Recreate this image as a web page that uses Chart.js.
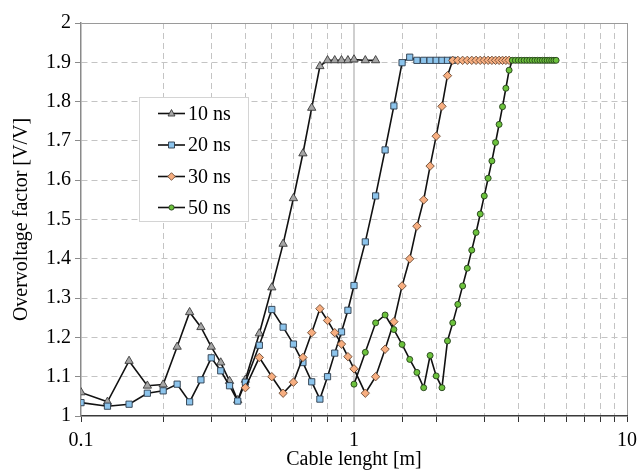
<!DOCTYPE html>
<html>
<head>
<meta charset="utf-8">
<script src="https://cdn.jsdelivr.net/npm/chart.js@4"></script>
<style>
  html, body { margin: 0; padding: 0; background: #fff; }
  #wrap { width: 638px; height: 470px; }
</style>
</head>
<body>
<div id="wrap"><canvas id="c" width="638" height="470"></canvas></div>
<script>
// ---- Data ----
const seriesNames = ['10 ns', '20 ns', '30 ns', '50 ns'];
const xTickLabels = ['0.1', '1', '10'];

const x10 = [0.1, 0.125, 0.15, 0.175, 0.2, 0.225, 0.25, 0.275, 0.3, 0.325, 0.35, 0.375, 0.4, 0.45, 0.5, 0.55, 0.6, 0.65, 0.7, 0.75, 0.8, 0.85, 0.9, 0.95, 1.0, 1.1, 1.2];
const y10 = [1.06, 1.036, 1.14, 1.077, 1.08, 1.176, 1.264, 1.226, 1.176, 1.136, 1.089, 1.04, 1.092, 1.21, 1.327, 1.438, 1.554, 1.668, 1.784, 1.89, 1.905, 1.905, 1.905, 1.905, 1.907, 1.905, 1.905];

const x20 = [0.1, 0.125, 0.15, 0.175, 0.2, 0.225, 0.25, 0.275, 0.3, 0.325, 0.35, 0.375, 0.4, 0.45, 0.5, 0.55, 0.6, 0.65, 0.7, 0.75, 0.8, 0.85, 0.9, 0.95, 1.0, 1.1, 1.2, 1.3, 1.4, 1.5, 1.6, 1.7, 1.8, 1.9, 2.0, 2.1, 2.2, 2.3];
const y20 = [1.034, 1.025, 1.03, 1.058, 1.064, 1.081, 1.036, 1.092, 1.148, 1.115, 1.077, 1.038, 1.086, 1.18, 1.271, 1.226, 1.183, 1.136, 1.087, 1.043, 1.10, 1.16, 1.214, 1.269, 1.332, 1.443, 1.56, 1.677, 1.789, 1.899, 1.913, 1.905, 1.905, 1.905, 1.905, 1.905, 1.905, 1.905];

const x30 = [0.4, 0.45, 0.5, 0.55, 0.6, 0.65, 0.7, 0.75, 0.8, 0.85, 0.9, 0.95, 1.0, 1.1, 1.2, 1.3, 1.4, 1.5, 1.6, 1.7, 1.8, 1.9, 2.0, 2.1, 2.2, 2.3, 2.4, 2.5, 2.6, 2.7, 2.8, 2.9, 3.0, 3.1, 3.2, 3.3, 3.4, 3.5, 3.6, 3.7];
const y30 = [1.072, 1.149, 1.10, 1.058, 1.086, 1.149, 1.212, 1.273, 1.243, 1.212, 1.183, 1.151, 1.12, 1.058, 1.10, 1.17, 1.24, 1.331, 1.40, 1.483, 1.55, 1.636, 1.712, 1.788, 1.866, 1.905, 1.905, 1.905, 1.905, 1.905, 1.905, 1.905, 1.905, 1.905, 1.905, 1.905, 1.905, 1.905, 1.905, 1.905];

const x50 = [1.0, 1.1, 1.2, 1.3, 1.4, 1.5, 1.6, 1.7, 1.8, 1.9, 2.0, 2.1, 2.2, 2.3, 2.4, 2.5, 2.6, 2.7, 2.8, 2.9, 3.0, 3.1, 3.2, 3.3, 3.4, 3.5, 3.6, 3.7, 3.8, 3.9, 4.0, 4.1, 4.2, 4.3, 4.4, 4.5, 4.6, 4.7, 4.8, 4.9, 5.0, 5.1, 5.2, 5.3, 5.4, 5.5];
const y50 = [1.081, 1.162, 1.237, 1.257, 1.22, 1.182, 1.144, 1.111, 1.072, 1.154, 1.102, 1.072, 1.191, 1.237, 1.284, 1.331, 1.376, 1.422, 1.467, 1.514, 1.56, 1.605, 1.649, 1.696, 1.742, 1.787, 1.834, 1.88, 1.905, 1.905, 1.905, 1.905, 1.905, 1.905, 1.905, 1.905, 1.905, 1.905, 1.905, 1.905, 1.905, 1.905, 1.905, 1.905, 1.905, 1.905];

// ---- Styling ----
const FONT = "'Liberation Serif', 'Times New Roman', serif";
const styles = [
  { fill: '#a6a6a6', stroke: '#3a3a3a', shape: 'triangle', r: 4.8, order: 4 },
  { fill: '#8cc4ec', stroke: '#2b3a4a', shape: 'rect', r: 4.4, order: 3 },
  { fill: '#f7ae80', stroke: '#6b4a33', shape: 'rectRot', r: 4.2, order: 2 },
  { fill: '#6cc23c', stroke: '#24401a', shape: 'circle', r: 3.0, order: 1 }
];
const xs = [x10, x20, x30, x50];
const ys = [y10, y20, y30, y50];

const datasets = seriesNames.map((name, i) => ({
  label: name,
  data: xs[i].map((x, k) => ({ x: x, y: ys[i][k] })),
  borderColor: '#111',
  borderWidth: 1.6,
  pointStyle: styles[i].shape,
  pointRadius: styles[i].r,
  pointBackgroundColor: styles[i].fill,
  pointBorderColor: styles[i].stroke,
  pointBorderWidth: 0.9,
  order: styles[i].order,
  tension: 0,
  fill: false
}));

function isPow10(v) {
  const l = Math.log10(v);
  return Math.abs(l - Math.round(l)) < 1e-9;
}
function near(a, b) { return Math.abs(a - b) < 1e-6; }

// Custom legend, drawn as in the reference (boxed, inside the plot)
const boxLegend = {
  id: 'boxLegend',
  afterDraw(chart) {
    const ctx = chart.ctx;
    ctx.save();
    const bx = 139.5, by = 97.5, bw = 109, bh = 124;
    ctx.fillStyle = '#fff';
    ctx.fillRect(bx, by, bw, bh);
    ctx.strokeStyle = '#d4d4d4';
    ctx.lineWidth = 1;
    ctx.strokeRect(bx, by, bw, bh);
    const rows = [113.5, 145, 176.5, 207.5];
    seriesNames.forEach((name, i) => {
      const y = rows[i];
      ctx.strokeStyle = '#111';
      ctx.lineWidth = 1.6;
      ctx.beginPath();
      ctx.moveTo(158, y);
      ctx.lineTo(185, y);
      ctx.stroke();
      const cx = 171.5;
      ctx.fillStyle = styles[i].fill;
      ctx.strokeStyle = styles[i].stroke;
      ctx.lineWidth = 0.9;
      ctx.beginPath();
      const s = styles[i].shape;
      if (s === 'triangle') {
        const r = 4;
        ctx.moveTo(cx, y - r);
        ctx.lineTo(cx + r * 0.866, y + r * 0.5 + 0.5);
        ctx.lineTo(cx - r * 0.866, y + r * 0.5 + 0.5);
        ctx.closePath();
      } else if (s === 'rect') {
        ctx.rect(cx - 3, y - 3, 6, 6);
      } else if (s === 'rectRot') {
        const r = 3.8;
        ctx.moveTo(cx, y - r); ctx.lineTo(cx + r, y); ctx.lineTo(cx, y + r); ctx.lineTo(cx - r, y);
        ctx.closePath();
      } else {
        ctx.arc(cx, y, 2.6, 0, Math.PI * 2);
      }
      ctx.fill();
      ctx.stroke();
      ctx.fillStyle = '#000';
      ctx.font = '20px ' + FONT;
      ctx.textBaseline = 'middle';
      ctx.textAlign = 'left';
      ctx.fillText(name, 188, y + 1);
    });
    ctx.restore();
  }
};

new Chart(document.getElementById('c'), {
  type: 'line',
  data: { datasets: datasets },
  plugins: [boxLegend],
  options: {
    responsive: false,
    animation: false,
    layout: { padding: { top: 23, right: 11, left: 0, bottom: 0 } },
    plugins: { legend: { display: false }, tooltip: { enabled: false } },
    font: { family: FONT },
    scales: {
      x: {
        type: 'logarithmic',
        min: 0.1,
        max: 10,
        afterFit(scale) {
          scale.height = 54;
          scale.paddingLeft = 0;
          scale.paddingRight = 0;
        },
        ticks: {
          autoSkip: false,
          maxRotation: 0,
          padding: 7,
          color: '#000',
          font: { family: FONT, size: 20 },
          callback(value) {
            if (!isPow10(value)) return '';
            const lbl = String(+Number(value).toPrecision(3));
            return xTickLabels.includes(lbl) ? lbl : '';
          }
        },
        grid: {
          color(ctx) {
            const v = ctx.tick ? ctx.tick.value : null;
            if (v === null) return '#bfbfbf';
            if (near(v, 0.1)) return 'rgba(0,0,0,0)';
            if (near(v, 10)) return '#9a9a9a';
            if (near(v, 1)) return '#cfcfcf';
            return '#c4c4c4';
          },
          lineWidth(ctx) {
            const v = ctx.tick ? ctx.tick.value : null;
            if (v !== null && near(v, 1)) return 2;
            return 1;
          },
          drawTicks: true,
          tickLength: 6,
          tickColor: '#333',
          tickWidth: 1,
          tickBorderDash: []
        },
        border: {
          display: true,
          color: '#3a3a3a',
          width: 1.5,
          dash(ctx) {
            const v = ctx.tick ? ctx.tick.value : null;
            if (v !== null && (near(v, 1) || near(v, 10))) return [];
            return [6, 4];
          }
        },
        title: {
          display: true,
          text: 'Cable lenght [m]',
          color: '#000',
          font: { family: FONT, size: 20, lineHeight: 1 },
          padding: { top: 0, bottom: 0 }
        }
      },
      y: {
        type: 'linear',
        min: 1,
        max: 2,
        afterFit(scale) {
          scale.width = 81;
          scale.paddingTop = 0;
          scale.paddingBottom = 0;
        },
        ticks: {
          stepSize: 0.1,
          padding: 4,
          color: '#000',
          font: { family: FONT, size: 20 },
          callback(value) { return String(+Number(value).toFixed(1)); }
        },
        grid: {
          color(ctx) {
            const v = ctx.tick ? ctx.tick.value : null;
            if (v === null) return '#bfbfbf';
            if (near(v, 2)) return '#9a9a9a';
            if (near(v, 1)) return 'rgba(0,0,0,0)';
            return '#c4c4c4';
          },
          lineWidth: 1,
          drawTicks: true,
          tickLength: 6,
          tickColor: '#8a8a8a',
          tickWidth: 1,
          tickBorderDash: []
        },
        border: {
          display: true,
          color: '#8a8a8a',
          width: 1.5,
          dash(ctx) {
            const v = ctx.tick ? ctx.tick.value : null;
            if (v !== null && near(v, 2)) return [];
            return [6, 4];
          }
        },
        title: {
          display: true,
          text: 'Overvoltage factor [V/V]',
          color: '#000',
          font: { family: FONT, size: 20, lineHeight: 1 },
          padding: { top: 12, bottom: 0 }
        }
      }
    }
  }
});
</script>
</body>
</html>
